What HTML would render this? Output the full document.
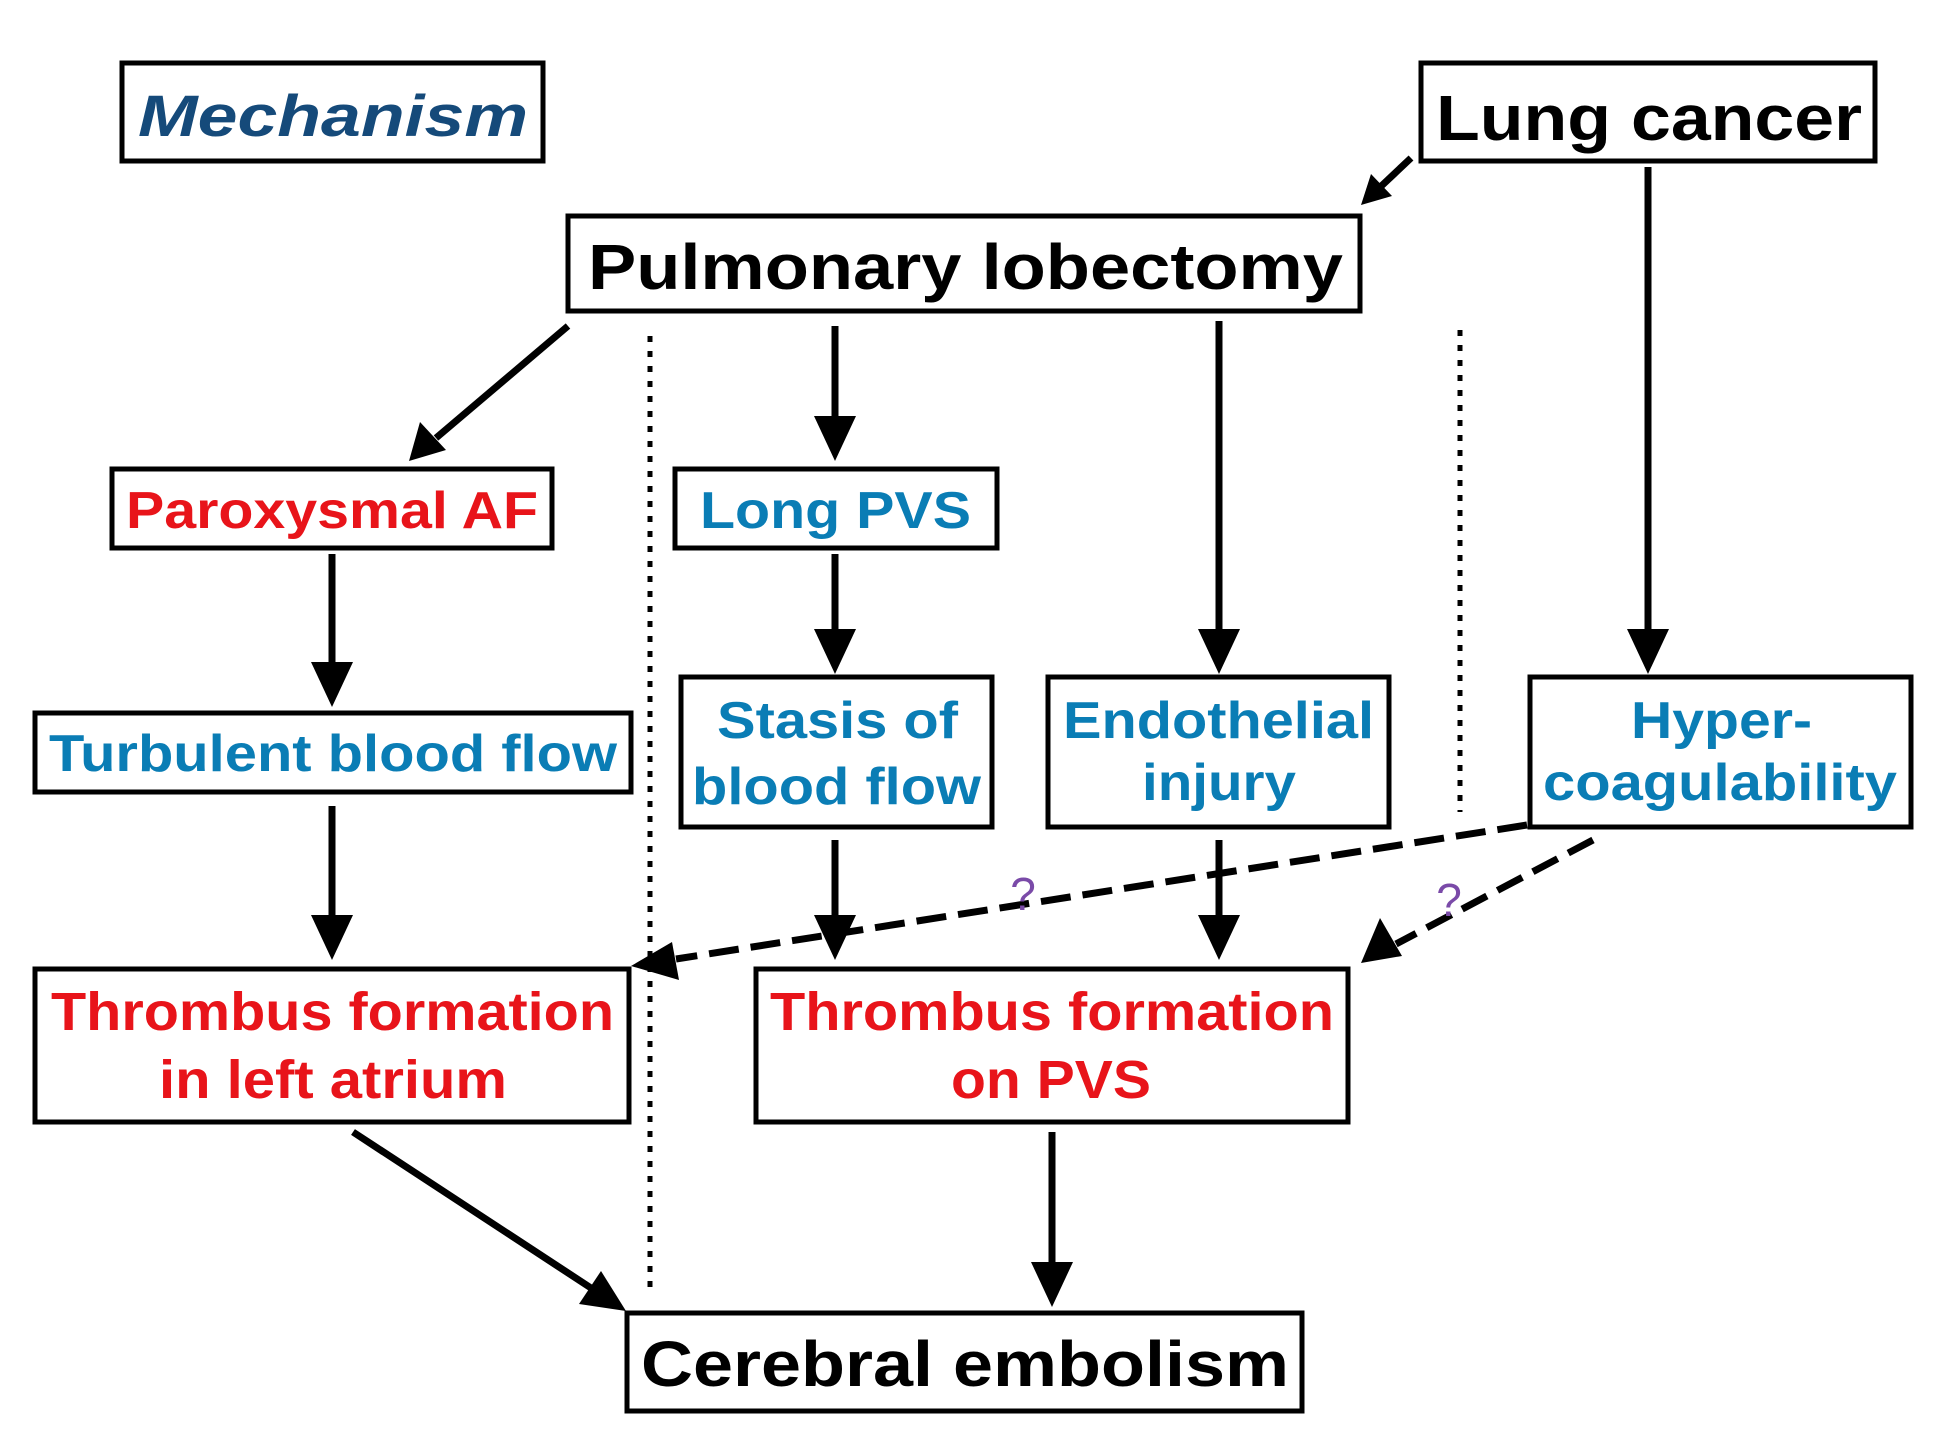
<!DOCTYPE html>
<html><head><style>html,body{margin:0;padding:0;background:#fff}svg{display:block}</style></head>
<body>
<svg width="1954" height="1450" viewBox="0 0 1954 1450" xmlns="http://www.w3.org/2000/svg" font-family="'Liberation Sans', Arial, sans-serif" font-weight="bold">
<g transform="translate(-4,-2)">
<g fill="none" stroke="#000" stroke-width="5">
<rect x="126" y="65" width="421" height="98"/>
<rect x="1425" y="65" width="454" height="98"/>
<rect x="572" y="218" width="792" height="95"/>
<rect x="116" y="471" width="440" height="79"/>
<rect x="679" y="471" width="322" height="79"/>
<rect x="39" y="715" width="596" height="79"/>
<rect x="685" y="679" width="311" height="150"/>
<rect x="1052" y="679" width="341" height="150"/>
<rect x="1534" y="679" width="381" height="150"/>
<rect x="39" y="971" width="594" height="153"/>
<rect x="760" y="971" width="592" height="153"/>
<rect x="631" y="1315" width="675" height="98"/>
</g>
<g stroke="#000" stroke-width="7" fill="none">
<line x1="1415" y1="160" x2="1380" y2="193"/>
<line x1="1652" y1="169" x2="1652" y2="640"/>
<line x1="572" y1="328" x2="440" y2="440"/>
<line x1="839" y1="328" x2="839" y2="425"/>
<line x1="1223" y1="323" x2="1223" y2="640"/>
<line x1="336" y1="556" x2="336" y2="670"/>
<line x1="839" y1="556" x2="839" y2="640"/>
<line x1="336" y1="808" x2="336" y2="925"/>
<line x1="839" y1="842" x2="839" y2="925"/>
<line x1="1223" y1="842" x2="1223" y2="925"/>
<line x1="357" y1="1134" x2="595" y2="1290"/>
<line x1="1056" y1="1134" x2="1056" y2="1270"/>
<line x1="1531" y1="827" x2="680" y2="961" stroke-dasharray="30,12"/>
<line x1="1597" y1="842" x2="1400" y2="946" stroke-dasharray="28,12"/>
</g>
<g fill="#000">
<polygon points="1365,207 1375,176 1396,198"/>
<polygon points="413,463 424,424 450,452"/>
<polygon points="839,463 818,418 860,418"/>
<polygon points="1223,676 1202,631 1244,631"/>
<polygon points="1652,676 1631,631 1673,631"/>
<polygon points="336,709 315,664 357,664"/>
<polygon points="839,676 818,631 860,631"/>
<polygon points="336,962 315,917 357,917"/>
<polygon points="839,962 818,917 860,917"/>
<polygon points="1223,962 1202,917 1244,917"/>
<polygon points="630,1313 583,1306 605,1273"/>
<polygon points="1056,1309 1035,1264 1077,1264"/>
<polygon points="635,968 676,944 683,982"/>
<polygon points="1365,965 1384,920 1406,958"/>
</g>
<g stroke="#000" stroke-width="5" stroke-dasharray="6,9">
<line x1="654" y1="338" x2="654" y2="1290"/>
<line x1="1464" y1="332" x2="1464" y2="814"/>
</g>
<g font-weight="normal" fill="#7a4aa8" font-size="46">
<text x="1027" y="912" text-anchor="middle">?</text>
<text x="1453" y="918" text-anchor="middle">?</text>
</g>
<text x="142" y="138" font-size="58" font-style="italic" fill="#154a7a" textLength="390" lengthAdjust="spacingAndGlyphs">Mechanism</text>
<text x="1440" y="142" font-size="64" fill="#000" textLength="426" lengthAdjust="spacingAndGlyphs">Lung cancer</text>
<text x="592" y="291" font-size="64" fill="#000" textLength="755" lengthAdjust="spacingAndGlyphs">Pulmonary lobectomy</text>
<text x="130" y="530" font-size="52" fill="#e8141a" textLength="412" lengthAdjust="spacingAndGlyphs">Paroxysmal AF</text>
<text x="704" y="530" font-size="52" fill="#0a7db5" textLength="271" lengthAdjust="spacingAndGlyphs">Long PVS</text>
<text x="53" y="773" font-size="52" fill="#0a7db5" textLength="568" lengthAdjust="spacingAndGlyphs">Turbulent blood flow</text>
<text x="721" y="740" font-size="52" fill="#0a7db5" textLength="241" lengthAdjust="spacingAndGlyphs">Stasis of</text>
<text x="696" y="806" font-size="52" fill="#0a7db5" textLength="289" lengthAdjust="spacingAndGlyphs">blood flow</text>
<text x="1067" y="740" font-size="52" fill="#0a7db5" textLength="311" lengthAdjust="spacingAndGlyphs">Endothelial</text>
<text x="1146" y="802" font-size="52" fill="#0a7db5" textLength="154" lengthAdjust="spacingAndGlyphs">injury</text>
<text x="1635" y="740" font-size="52" fill="#0a7db5" textLength="181" lengthAdjust="spacingAndGlyphs">Hyper-</text>
<text x="1547" y="802" font-size="52" fill="#0a7db5" textLength="354" lengthAdjust="spacingAndGlyphs">coagulability</text>
<text x="55" y="1032" font-size="54" fill="#e8141a" textLength="563" lengthAdjust="spacingAndGlyphs">Thrombus formation</text>
<text x="163" y="1100" font-size="54" fill="#e8141a" textLength="348" lengthAdjust="spacingAndGlyphs">in left atrium</text>
<text x="774" y="1032" font-size="54" fill="#e8141a" textLength="564" lengthAdjust="spacingAndGlyphs">Thrombus formation</text>
<text x="955" y="1100" font-size="54" fill="#e8141a" textLength="200" lengthAdjust="spacingAndGlyphs">on PVS</text>
<text x="645" y="1388" font-size="64" fill="#000" textLength="648" lengthAdjust="spacingAndGlyphs">Cerebral embolism</text>
</g>
</svg>
</body></html>
